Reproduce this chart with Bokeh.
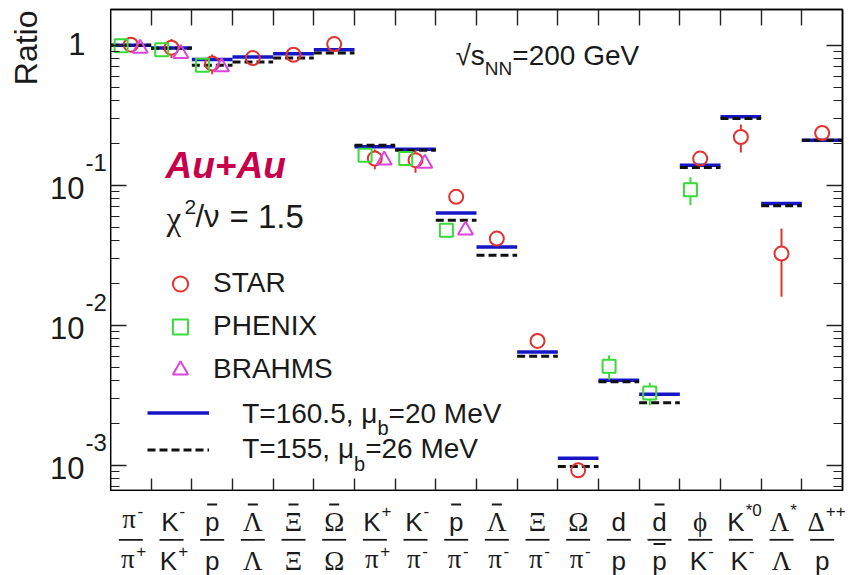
import math
from bokeh.plotting import figure
from bokeh.layouts import column, row
from bokeh.models import (Range1d, FixedTicker, LogAxis, LinearAxis, Label, Legend,
                          LegendItem, ColumnDataSource, CustomJSTickFormatter, LogScale)
from bokeh.core.properties import value
from bokeh.embed import file_html
from bokeh.resources import INLINE

nan = float("nan")

# ---------------- data ----------------
num_base = ["π", "K", "p", "Λ", "Ξ", "Ω", "K", "K", "p", "Λ", "Ξ", "Ω", "d", "d", "ϕ", "K", "Λ", "Δ"]
num_sup = ["-", "-", "", "", "", "", "+", "-", "", "", "", "", "", "", "", "*0", "*", "++"]
num_bar = [0, 0, 1, 1, 1, 1, 0, 0, 1, 1, 0, 0, 0, 1, 0, 0, 0, 0]
den_base = ["π", "K", "p", "Λ", "Ξ", "Ω", "π", "π", "π", "π", "π", "π", "p", "p", "K", "K", "Λ", "p"]
den_sup = ["+", "+", "", "", "", "", "+", "-", "-", "-", "-", "-", "", "", "-", "-", "", ""]
den_bar = [0, 0, 0, 0, 0, 0, 0, 0, 0, 0, 0, 0, 0, 1, 0, 0, 0, 0]

star = [1.01, 0.96, 0.74, 0.81, 0.855, 1.02, 0.155, 0.151, 0.0826, 0.0416, 0.00773, 0.00092,
        nan, nan, 0.155, 0.221, 0.0325, 0.236]
star_err = [0.12, 0.15, 0.12, 0.05, 0.05, 0.06, 0.025, 0.028, 0.005, 0.002, 0.0004, 0.00006,
            nan, nan, 0.01, 0.05, 0.0165, 0.012]
phenix = [0.99, 0.93, 0.72, nan, nan, nan, 0.164, 0.155, 0.0477, nan, nan, nan,
          0.00509, 0.00328, 0.093, nan, nan, nan]
phenix_err = [0.03, 0.03, 0.03, nan, nan, nan, 0.005, 0.005, 0.002, nan, nan, nan,
              0.001, 0.0006, 0.021, nan, nan, nan]
brahms = [0.95, 0.87, 0.70, nan, nan, nan, 0.151, 0.143, 0.0477, nan, nan, nan,
          nan, nan, nan, nan, nan, nan]
model_160 = [1.0, 0.955, 0.79, 0.825, 0.87, 0.93, 0.188, 0.181, 0.0634, 0.0362, 0.00645, 0.00112,
             0.00405, 0.00321, 0.139, 0.308, 0.074, 0.21]
model_155 = [1.0, 0.95, 0.72, 0.76, 0.81, 0.88, 0.193, 0.178, 0.0562, 0.0316, 0.0060, 0.00098,
             0.00394, 0.0028, 0.134, 0.30, 0.0714, 0.21]
y_major = [1e-3, 1e-2, 1e-1, 1.0]
y_major_text = ["10", "10", "10", "1"]
y_exponents = ["-3", "-2", "-1", ""]

# ---------------- style / layout ----------------
RED, GREEN, MAGENTA = "#e0332f", "#3ad93a", "#dc45dc"
BLUE, BLACK = "#1616c6", "#111111"
TXT = "#1a1a1a"
SANS, SERIF = "Liberation Sans", "Liberation Serif"
N = len(num_base)
FW, FH = 732, 481
LEFT, TOP, RIGHT = 110, 9, 10
YMIN, YMAX = 6.6e-4, 1.8
PPD = FH / (math.log10(YMAX) - math.log10(YMIN))
PPU = FW / N
FB = TOP + FH  # page y of frame bottom


def shift(v, px_down):
    """value that lies px_down screen pixels below v on the log axis"""
    return v * 10 ** (-px_down / PPD)


p = figure(frame_width=FW, frame_height=FH, x_range=Range1d(0, N), y_range=Range1d(YMIN, YMAX),
           y_axis_type="log", min_border_left=0, min_border_right=RIGHT, min_border_top=TOP,
           min_border_bottom=1, toolbar_location=None, output_backend="svg",
           outline_line_color="black", outline_line_width=1.5,
           background_fill_color="white", border_fill_color="white")
p.grid.visible = False

minors = [m * 10.0 ** e for e in range(-4, 1) for m in range(2, 10) if YMIN < m * 10.0 ** e < YMAX]
empty = CustomJSTickFormatter(code="return ''")


def style_axis(ax, tin, minor_in=0):
    ax.major_tick_in = tin
    ax.major_tick_out = 0
    ax.minor_tick_in = minor_in
    ax.minor_tick_out = 0
    ax.major_tick_line_color = "#222"
    ax.minor_tick_line_color = "#222"
    ax.major_tick_line_width = 1.4
    ax.minor_tick_line_width = 1.2
    ax.axis_line_color = "black"
    ax.axis_line_width = 1.5
    ax.formatter = empty
    ax.major_label_text_font_size = "0px"
    ax.major_label_standoff = 0


ly = p.yaxis[0]
ly.ticker = FixedTicker(ticks=y_major, minor_ticks=minors)
style_axis(ly, 16, 9)

bx = p.xaxis[0]
bx.ticker = FixedTicker(ticks=list(range(1, N)))
style_axis(bx, 12)

tx = LinearAxis(ticker=FixedTicker(ticks=list(range(1, N))))
style_axis(tx, 16)
p.add_layout(tx, "above")

ry = LogAxis(ticker=FixedTicker(ticks=y_major, minor_ticks=minors))
style_axis(ry, 16, 9)
p.add_layout(ry, "right")

# model lines
xs0 = list(range(N))
xs1 = [i + 1 for i in range(N)]
r160 = p.segment(x0=xs0, x1=xs1, y0=model_160, y1=model_160, line_color=BLUE, line_width=3.5)
r155 = p.segment(x0=xs0, x1=xs1, y0=model_155, y1=model_155, line_color=BLACK, line_width=3,
                 line_dash="8 4")


def series(vals, errs, dx):
    x, y, e = [], [], []
    for i, v in enumerate(vals):
        if not math.isnan(v):
            x.append(i + 0.5 + dx)
            y.append(v)
            e.append(errs[i] if errs is not None else nan)
    return x, y, e


def err_bars(x, y, e, color, r_px):
    f = 10 ** (r_px / PPD)
    sx, s0, s1 = [], [], []
    for xi, v, ei in zip(x, y, e):
        if math.isnan(ei):
            continue
        if v + ei > v * f:
            sx.append(xi); s0.append(v * f); s1.append(v + ei)
        if v - ei < v / f:
            sx.append(xi); s0.append(max(v - ei, YMIN)); s1.append(v / f)
    if sx:
        p.segment(x0=sx, x1=sx, y0=s0, y1=s1, line_color=color, line_width=2)


xs, ys, es = series(star, star_err, 0.0)
xp, yp, ep = series(phenix, phenix_err, -0.24)
xb, yb, eb = series(brahms, None, 0.23)
err_bars(xs, ys, es, RED, 7.5)
err_bars(xp, yp, ep, GREEN, 7)
r_star = p.scatter(xs, ys, marker="circle", size=14, line_color=RED, fill_color=None, line_width=2)
r_phen = p.scatter(xp, yp, marker="square", size=13, line_color=GREEN, fill_color=None, line_width=2)
r_brah = p.scatter(xb, yb, marker="triangle", size=15, line_color=MAGENTA, fill_color=None,
                   line_width=2)

legA = Legend(items=[LegendItem(label=value("STAR"), renderers=[r_star]),
                     LegendItem(label=value("PHENIX"), renderers=[r_phen]),
                     LegendItem(label=value("BRAHMS"), renderers=[r_brah])],
              location=(51, 101.5), glyph_width=38, glyph_height=39, spacing=4, padding=10,
              margin=0, label_standoff=14, label_text_font=SANS, label_text_font_size="28px",
              label_text_color=TXT, border_line_color=None, background_fill_alpha=0)
p.add_layout(legA)
legB = Legend(items=[LegendItem(label=value(" "), renderers=[r160]),
                     LegendItem(label=value(" "), renderers=[r155])],
              location=(36.7, 24), glyph_width=62, glyph_height=33, spacing=4, padding=10,
              margin=0, label_standoff=4, label_text_font_size="10px",
              border_line_color=None, background_fill_alpha=0)
p.add_layout(legB)


def plabel(text, px, py, size, font=SANS, **kw):
    kw.setdefault("text_color", TXT)
    kw.setdefault("text_baseline", "middle")
    p.add_layout(Label(x=px - LEFT, y=FB - py, x_units="screen", y_units="screen", text=text,
                       text_font=font, text_font_size=size, **kw))


# Arial-metric widths (em) for composing sub/superscripts
EM = {"T": .611, "=": .584, ".": .278, ",": .278, " ": .278, "μ": .576, "b": .556, "M": .833,
      "e": .556, "V": .667, "N": .722, "√": .549, "s": .5}


def w(s, size):
    return sum(EM.get(ch, .556) for ch in s) * size


# legend texts for the model lines
for txt1, txt2, yc in [("T=160.5, μ", "=20 MeV", 412.5), ("T=155, μ", "=26 MeV", 448.3)]:
    x0 = 241.7
    plabel(txt1, x0, yc, "28px")
    plabel("b", x0 + w(txt1, 28), yc + 15, "20px")
    plabel(txt2, x0 + w(txt1, 28) + w("b", 20), yc, "28px")

# energy label
plabel("√s", 455, 55, "28px")
plabel("NN", 455 + w("√s", 28), 68.3, "19px")
plabel("=200 GeV", 455 + w("√s", 28) + w("NN", 19), 55, "28px")

# Au+Au and chi2
plabel("Au+Au", 165, 165, "37px", text_font_style="bold italic", text_color="#c8004b")
plabel("χ", 166, 218, "33px", font=SERIF)
plabel("2", 184, 206, "21px")
plabel("/ν", 195, 216, "31px")
plabel("= 1.5", 229, 216, "33px")

# ---------------- left strip: y tick labels and title ----------------
p0 = figure(frame_width=LEFT, frame_height=FH, x_range=Range1d(0, LEFT), y_range=p.y_range,
            y_axis_type="log", min_border_left=0, min_border_right=0, min_border_top=TOP,
            min_border_bottom=1, toolbar_location=None, output_backend="svg",
            x_axis_location=None, y_axis_location=None, outline_line_color=None,
            background_fill_color="white", border_fill_color="white")
p0.y_scale = LogScale()
p0.grid.visible = False
p0.text(x=[85 if t == "1" else 84 for t in y_major_text],
        y=[shift(v, -1.5 if t == "1" else 2.5) for v, t in zip(y_major, y_major_text)],
        text=y_major_text, text_font=value(SANS), text_font_size="31px", text_color=TXT,
        text_align="right", text_baseline="middle")
ex_y = [shift(v, -22.5) for v, e in zip(y_major, y_exponents) if e]
p0.text(x=[85] * len(ex_y), y=ex_y, text=[e for e in y_exponents if e],
        text_font=value(SANS), text_font_size="24px", text_color=TXT,
        text_align="left", text_baseline="middle")
p0.text(x=[25.5], y=[shift(YMAX, 10 - TOP)], text=["Ratio"], angle=math.pi / 2,
        text_font=value(SANS), text_font_size="32px", text_color=TXT,
        text_align="right", text_baseline="middle")

# ---------------- x tick labels (fractions) ----------------
L2 = 100
p2 = figure(frame_width=852 - L2, frame_height=84,
            x_range=Range1d(-(LEFT - L2) / PPU, N + (852 - LEFT - FW) / PPU),
            y_range=Range1d(575, FB + 1), min_border_left=L2, min_border_right=0,
            min_border_top=0, min_border_bottom=0, toolbar_location=None, output_backend="svg",
            x_axis_location=None, y_axis_location=None, outline_line_color=None,
            background_fill_color="white", border_fill_color="white")
p2.grid.visible = False

BW = {"π": .55, "Λ": .72, "Ξ": .65, "Ω": .77, "ϕ": .6, "Δ": .63, "K": .667, "p": .556, "d": .556}
SW = {"-": .333, "+": .584, "*": .389, "0": .556}
YADJ = {"π": -2.5}
GREEK = set("πΛΞΩϕΔ")

bx_, by_, bt_, bf_, bs_, bo_ = [], [], [], [], [], []
sx_, sy_, st_, so_ = [], [], [], []
barx0, barx1, bary = [], [], []
for i in range(N):
    c = i + 0.5
    for base, sup, bar, yb_, ys_, ybar, half in [
            (num_base[i], num_sup[i], num_bar[i], 521, 510, 504, 5),
            (den_base[i], den_sup[i], den_bar[i], 560.5, 550, 543.5, 6)]:
        greek = base in GREEK
        fsz = 27 if greek else 26
        bw = BW[base] * fsz
        sw = sum(SW.get(ch, .556) for ch in sup) * 17
        off = -0.3 * sw
        bx_.append(c); by_.append(yb_ + YADJ.get(base, 0)); bt_.append(base)
        bf_.append(SERIF if greek else SANS); bs_.append(f"{fsz}px"); bo_.append(off)
        if sup:
            sx_.append(c); sy_.append(ys_); st_.append(sup); so_.append(off + bw / 2 + 1)
        if bar:
            barx0.append(c - half / PPU); barx1.append(c + half / PPU); bary.append(ybar)

p2.text(x="x", y="y", text="t", text_font="f", text_font_size="s", x_offset="o",
        source=ColumnDataSource(dict(x=bx_, y=by_, t=bt_, f=bf_, s=bs_, o=bo_)),
        text_align="center", text_baseline="middle", text_color=TXT)
p2.text(x="x", y="y", text="t", x_offset="o",
        source=ColumnDataSource(dict(x=sx_, y=sy_, t=st_, o=so_)),
        text_font=value(SANS), text_font_size="17px",
        text_align="left", text_baseline="middle", text_color=TXT)
cx = [i + 0.5 for i in range(N)]
p2.segment(x0=[c - 12 / PPU for c in cx], x1=[c + 12 / PPU for c in cx],
           y0=[539.3] * N, y1=[539.3] * N, line_color=TXT, line_width=1.8)
p2.segment(x0=barx0, x1=barx1, y0=bary, y1=bary, line_color=TXT, line_width=2)

layout = column(row(p0, p, spacing=0), p2, spacing=0)
open("out.html", "w").write(file_html(layout, INLINE))
